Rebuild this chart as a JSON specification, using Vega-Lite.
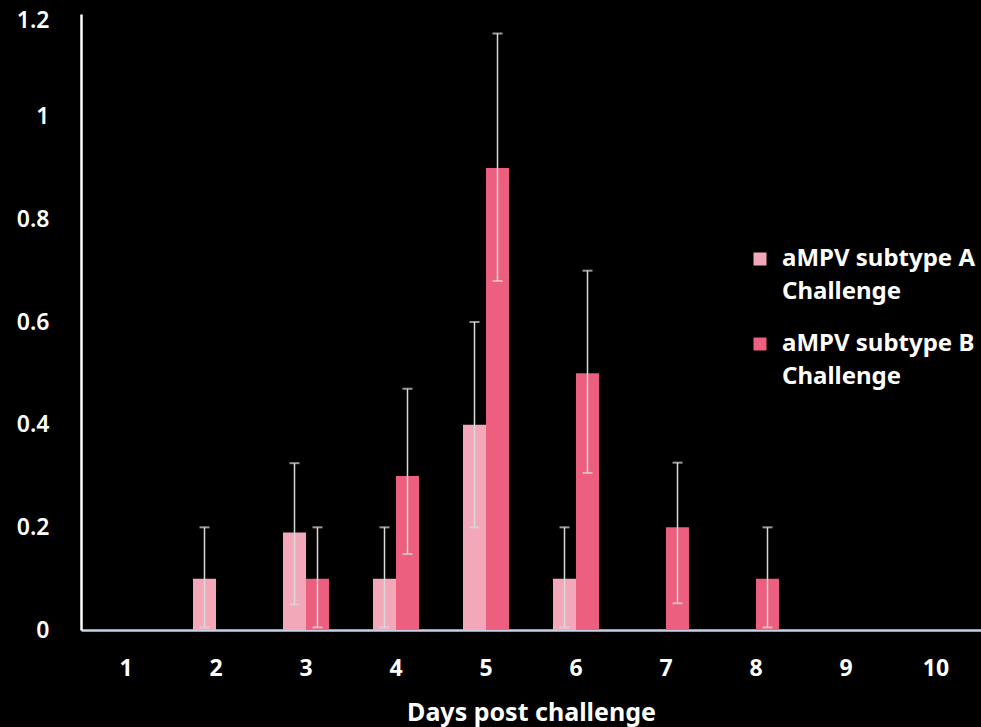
{
  "$schema": "https://vega.github.io/schema/vega-lite/v6.json",
  "width": 900,
  "height": 616,
  "autosize": {"type": "none"},
  "padding": {"left": 81, "top": 14, "right": 0, "bottom": 97},
  "background": "black",
  "config": {"view": {"stroke": null}, "font": "Noto Sans"},
  "data": {
    "values": [
      {"day": 1, "series": "A", "value": 0},
      {"day": 1, "series": "B", "value": 0},
      {"day": 2, "series": "A", "value": 0.1, "lo": 0.005, "hi": 0.2},
      {"day": 2, "series": "B", "value": 0},
      {"day": 3, "series": "A", "value": 0.19, "lo": 0.05, "hi": 0.325},
      {"day": 3, "series": "B", "value": 0.1, "lo": 0.005, "hi": 0.2},
      {"day": 4, "series": "A", "value": 0.1, "lo": 0.005, "hi": 0.2},
      {"day": 4, "series": "B", "value": 0.3, "lo": 0.148, "hi": 0.47},
      {"day": 5, "series": "A", "value": 0.4, "lo": 0.2, "hi": 0.6},
      {"day": 5, "series": "B", "value": 0.9, "lo": 0.68, "hi": 1.162},
      {"day": 6, "series": "A", "value": 0.1, "lo": 0.005, "hi": 0.2},
      {"day": 6, "series": "B", "value": 0.5, "lo": 0.306, "hi": 0.7},
      {"day": 7, "series": "A", "value": 0},
      {"day": 7, "series": "B", "value": 0.2, "lo": 0.052, "hi": 0.326},
      {"day": 8, "series": "A", "value": 0},
      {"day": 8, "series": "B", "value": 0.1, "lo": 0.005, "hi": 0.2},
      {"day": 9, "series": "A", "value": 0},
      {"day": 9, "series": "B", "value": 0},
      {"day": 10, "series": "A", "value": 0},
      {"day": 10, "series": "B", "value": 0}
    ]
  },
  "encoding": {
    "x": {
      "field": "day",
      "type": "ordinal",
      "scale": {"paddingInner": 0.489, "paddingOuter": 0.2445},
      "axis": {
        "labelAngle": 0,
        "ticks": false,
        "domainColor": "#c9d1ee",
        "domainWidth": 2.5,
        "labelColor": "white",
        "labelFontSize": 23,
        "labelFontWeight": "bold",
        "labelPadding": 27,
        "title": "Days post challenge",
        "titleColor": "white",
        "titleFontSize": 25,
        "titleFontWeight": "bold",
        "titlePadding": 20
      }
    },
    "xOffset": {"field": "series", "type": "nominal", "scale": {"paddingInner": 0, "paddingOuter": 0}}
  },
  "layer": [
    {
      "mark": {"type": "bar"},
      "encoding": {
        "y": {
          "field": "value",
          "type": "quantitative",
          "scale": {"domain": [0, 1.2]},
          "axis": {
            "values": [0, 0.2, 0.4, 0.6, 0.8, 1, 1.2],
            "labelExpr": "'' + datum.value",
            "grid": false,
            "ticks": false,
            "domainColor": "white",
            "domainWidth": 2.5,
            "labelColor": "white",
            "labelFontSize": 23,
            "labelFontWeight": 600,
            "labelPadding": 32,
            "labelOffset": {"condition": {"test": "datum.value == 1.2", "value": 6}, "value": 0},
            "title": null
          }
        },
        "color": {
          "field": "series",
          "type": "nominal",
          "scale": {"domain": ["A", "B"], "range": ["#f3a8b9", "#ec5f7e"]},
          "legend": {
            "orient": "none",
            "legendX": 667,
            "legendY": 233,
            "title": null,
            "symbolType": "square",
            "symbolSize": 169,
            "symbolStrokeWidth": 0,
            "labelColor": "white",
            "labelFontSize": 24,
            "labelFontWeight": "bold",
            "labelOffset": 10,
            "labelLimit": 300,
            "rowPadding": 28,
            "labelExpr": "datum.label == 'A' ? ['aMPV subtype A', 'Challenge'] : ['aMPV subtype B', 'Challenge']",
            "encode": {"labels": {"update": {"lineHeight": {"value": 33}}}}
          }
        }
      }
    },
    {
      "transform": [{"filter": "datum.hi != null"}],
      "mark": {"type": "rule", "color": "#d9d9d9", "strokeWidth": 1.5},
      "encoding": {
        "y": {"field": "lo", "type": "quantitative"},
        "y2": {"field": "hi"}
      }
    },
    {
      "transform": [{"filter": "datum.hi != null"}],
      "mark": {"type": "tick", "color": "#d9d9d9", "thickness": 2, "size": 10, "orient": "horizontal"},
      "encoding": {"y": {"field": "hi", "type": "quantitative"}}
    },
    {
      "transform": [{"filter": "datum.hi != null"}],
      "mark": {"type": "tick", "color": "#d9d9d9", "thickness": 2, "size": 10, "orient": "horizontal"},
      "encoding": {"y": {"field": "lo", "type": "quantitative"}}
    }
  ]
}
